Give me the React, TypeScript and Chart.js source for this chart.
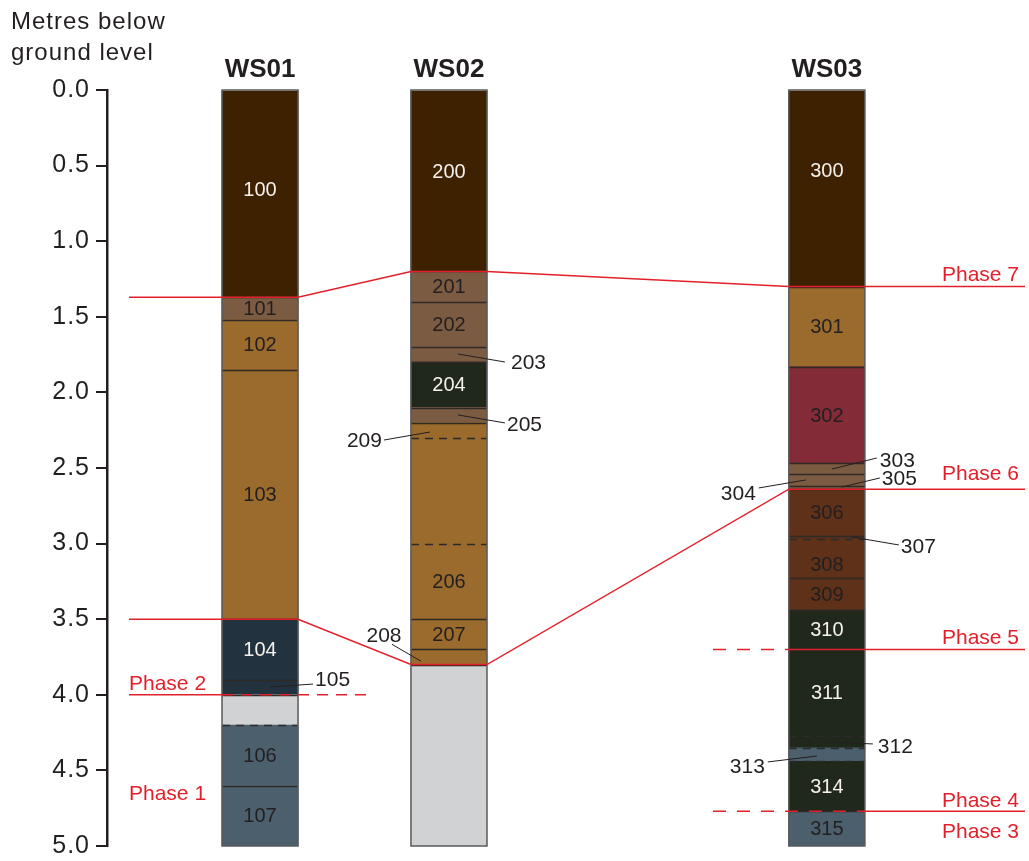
import React, { useEffect, useRef } from 'react';
import { Chart, registerables } from 'chart.js';

Chart.register(...registerables);

const FONT = '"Liberation Sans", Arial, Helvetica, sans-serif';
const INK = '#231f20';
const RED = '#e3202a';

// Boreholes and their stations along the section line
const boreholeNames = ['WS01', 'WS02', 'WS03'];
const boreholeStations = [0, 1, 3];

// Depth axis tick values (metres below ground level)
const depthTickValues = [0, 0.5, 1, 1.5, 2, 2.5, 3, 3.5, 4, 4.5, 5];

// WS01 log
const ws01Contexts = ['100', '101', '102', '103', '104', '105', '', '106', '107'];
const ws01Tops = [0, 1.37, 1.52, 1.85, 3.5, 3.9, 4.0, 4.2, 4.6];
const ws01Bases = [1.37, 1.52, 1.85, 3.5, 3.9, 4.0, 4.2, 4.6, 5.0];
const ws01Deposits = ['topsoil', 'silt', 'sand', 'sand', 'darkClay', 'darkClay', 'noCore', 'greyClay', 'greyClay'];
const ws01DashedBoundaries = [4.2];

// WS02 log
const ws02Contexts = ['200', '201', '202', '203', '204', '205', '209', '', '206', '207', '208', ''];
const ws02Tops = [0, 1.2, 1.4, 1.7, 1.8, 2.1, 2.2, 2.3, 3.0, 3.5, 3.7, 3.8];
const ws02Bases = [1.2, 1.4, 1.7, 1.8, 2.1, 2.2, 2.3, 3.0, 3.5, 3.7, 3.8, 5.0];
const ws02Deposits = ['topsoil', 'silt', 'silt', 'silt', 'peat', 'silt', 'sand', 'sand', 'sand', 'sand', 'sand', 'noCore'];
const ws02DashedBoundaries = [2.3, 3.0];

// WS03 log
const ws03Contexts = ['300', '301', '302', '303', '304', '305', '306', '307', '308', '309', '310', '311', '312', '313', '314', '315'];
const ws03Tops = [0, 1.3, 1.83, 2.47, 2.54, 2.62, 2.64, 2.95, 2.97, 3.23, 3.44, 3.7, 4.27, 4.35, 4.44, 4.77];
const ws03Bases = [1.3, 1.83, 2.47, 2.54, 2.62, 2.64, 2.95, 2.97, 3.23, 3.44, 3.7, 4.27, 4.35, 4.44, 4.77, 5.0];
const ws03Deposits = ['topsoil', 'sand', 'redClay', 'silt', 'silt', 'silt', 'organic', 'organic', 'organic', 'organic', 'peat', 'peat', 'peat', 'greyClay', 'peat', 'greyClay'];
const ws03DashedBoundaries = [2.97, 4.27, 4.35, 4.44];

// Context labels that sit off-centre within their layer (depth of label centre)
const labelDepthOverrides: Record<string, number> = { '100': 0.66, '200': 0.54, '300': 0.53, '308': 3.14 };

// Phase horizons
const phase7Depths = [1.37, 1.2, 1.3]; // WS01, WS02, WS03
const phase6Depths = [3.5, 3.8, 2.64]; // WS01, WS02, WS03
const phase5Depth = 3.7; // WS03
const phase4Depth = 4.77; // WS03
const phase2Depth = 4.0; // WS01

const phaseNames = ['Phase 1', 'Phase 2', 'Phase 3', 'Phase 4', 'Phase 5', 'Phase 6', 'Phase 7'];
const phaseLabelDepths = [4.648, 3.922, 4.899, 4.696, 3.618, 2.533, 1.217];
const phaseLabelSides = ['left', 'left', 'right', 'right', 'right', 'right', 'right'];

// Leader-line callouts for thin layers: borehole, anchor / elbow / text (px offset from column centre, depth)
const callouts = [
  { id: '105', hole: 0, ax: 10, ad: 3.948, ex: 53, ed: 3.929, tx: 55, td: 3.9, align: 'left' },
  { id: '203', hole: 1, ax: 9, ad: 1.746, ex: 56, ed: 1.799, tx: 62, td: 1.797, align: 'left' },
  { id: '205', hole: 1, ax: 9, ad: 2.149, ex: 56, ed: 2.202, tx: 58, td: 2.211, align: 'left' },
  { id: '209', hole: 1, ax: -19, ad: 2.262, ex: -65, ed: 2.315, tx: -67, td: 2.315, align: 'right' },
  { id: '208', hole: 1, ax: -28, ad: 3.778, ex: -57, ed: 3.666, tx: -65, td: 3.605, align: 'center' },
  { id: '303', hole: 2, ax: 5, ad: 2.507, ex: 50, ed: 2.434, tx: 53, td: 2.447, align: 'left' },
  { id: '305', hole: 2, ax: 15, ad: 2.626, ex: 53, ed: 2.566, tx: 55, td: 2.568, align: 'left' },
  { id: '304', hole: 2, ax: -21, ad: 2.579, ex: -68, ed: 2.632, tx: -71, td: 2.667, align: 'right' },
  { id: '307', hole: 2, ax: 25, ad: 2.956, ex: 72, ed: 3.009, tx: 74, td: 3.02, align: 'left' },
  { id: '312', hole: 2, ax: 1, ad: 4.312, ex: 46, ed: 4.325, tx: 51, td: 4.337, align: 'left' },
  { id: '313', hole: 2, ax: -10, ad: 4.405, ex: -59, ed: 4.444, tx: -62, td: 4.475, align: 'right' },
];

const depositFill: Record<string, string> = {
  topsoil: '#3e2100',
  silt: '#7c5b43',
  sand: '#9a6b2c',
  darkClay: '#22323e',
  noCore: '#d1d2d4',
  greyClay: '#4b5f6d',
  peat: '#20271b',
  redClay: '#832b37',
  organic: '#5e3118',
};
const lightText = new Set(['topsoil', 'darkClay', 'peat']);

const logs = [
  { contexts: ws01Contexts, tops: ws01Tops, bases: ws01Bases, deposits: ws01Deposits, dashed: ws01DashedBoundaries },
  { contexts: ws02Contexts, tops: ws02Tops, bases: ws02Bases, deposits: ws02Deposits, dashed: ws02DashedBoundaries },
  { contexts: ws03Contexts, tops: ws03Tops, bases: ws03Bases, deposits: ws03Deposits, dashed: ws03DashedBoundaries },
];

function columnGeometry(chart: any, hole: number) {
  const el: any = chart.getDatasetMeta(hole).data[0];
  const half = el.width / 2;
  return { cx: el.x, left: el.x - half, right: el.x + half };
}

function polyline(ctx: CanvasRenderingContext2D, pts: number[][], dash: number[]) {
  ctx.save();
  ctx.setLineDash(dash);
  ctx.beginPath();
  pts.forEach(([px, py], i) => (i === 0 ? ctx.moveTo(px, py) : ctx.lineTo(px, py)));
  ctx.stroke();
  ctx.restore();
}

const sectionPlugin = {
  id: 'section',
  beforeDraw(chart: any) {
    chart.ctx.letterSpacing = '1px';
  },
  beforeDatasetsDraw(chart: any) {
    chart.ctx.letterSpacing = '0px';
  },
  afterDatasetsDraw(chart: any) {
    const { ctx } = chart;
    const y = chart.scales.y;
    const calloutIds = new Set(callouts.map((c) => c.id));
    ctx.save();
    logs.forEach((log, b) => {
      const col = columnGeometry(chart, b);
      // layer boundaries
      for (let i = 1; i < log.tops.length; i++) {
        const d = log.tops[i];
        const yy = Math.round(y.getPixelForValue(d)) + 0.5;
        const dashed = log.dashed.includes(d);
        ctx.save();
        ctx.strokeStyle = dashed ? '#2b2b2b' : '#2e2a26';
        ctx.lineWidth = 1.3;
        ctx.setLineDash(dashed ? [8, 6] : []);
        ctx.beginPath();
        ctx.moveTo(col.left, yy);
        ctx.lineTo(col.right, yy);
        ctx.stroke();
        ctx.restore();
      }
      // column outline
      const top = y.getPixelForValue(log.tops[0]);
      const bottom = y.getPixelForValue(log.bases[log.bases.length - 1]);
      ctx.strokeStyle = '#5a5a5c';
      ctx.lineWidth = 1.5;
      ctx.strokeRect(col.left, top, col.right - col.left, bottom - top);
      // context numbers
      ctx.font = `20px ${FONT}`;
      ctx.textAlign = 'center';
      ctx.textBaseline = 'middle';
      log.contexts.forEach((id, i) => {
        if (!id || calloutIds.has(id)) return;
        const d = labelDepthOverrides[id] ?? (log.tops[i] + log.bases[i]) / 2;
        ctx.fillStyle = lightText.has(log.deposits[i]) ? '#f4f1ec' : INK;
        ctx.fillText(id, col.cx, y.getPixelForValue(d) + 1);
      });
      // borehole name
      ctx.font = `bold 26px ${FONT}`;
      ctx.fillStyle = INK;
      ctx.textBaseline = 'alphabetic';
      ctx.fillText(boreholeNames[b], col.cx, top - 13);
    });
    ctx.restore();
  },
  afterDraw(chart: any) {
    const { ctx } = chart;
    const y = chart.scales.y;
    const c = [0, 1, 2].map((b) => columnGeometry(chart, b));
    const leftEnd = 129;
    const rightEnd = 1025;
    ctx.save();

    // phase horizons
    ctx.strokeStyle = RED;
    ctx.lineWidth = 1.5;
    [phase7Depths, phase6Depths].forEach((ds) => {
      const [y0, y1, y2] = ds.map((d) => y.getPixelForValue(d));
      polyline(ctx, [[leftEnd, y0], [c[0].right, y0], [c[1].left, y1], [c[1].right, y1], [c[2].left, y2], [rightEnd, y2]], []);
    });
    const y2p = y.getPixelForValue(phase2Depth);
    polyline(ctx, [[leftEnd, y2p], [c[0].left, y2p]], []);
    polyline(ctx, [[c[0].left, y2p], [373, y2p]], [11, 8]);
    const y5p = y.getPixelForValue(phase5Depth);
    polyline(ctx, [[713, y5p], [c[2].left, y5p]], [13, 11]);
    polyline(ctx, [[c[2].left, y5p], [rightEnd, y5p]], []);
    const y4p = y.getPixelForValue(phase4Depth);
    polyline(ctx, [[713, y4p], [c[2].right, y4p]], [13, 11]);
    polyline(ctx, [[c[2].right, y4p], [rightEnd, y4p]], []);

    // phase labels
    ctx.font = `21px ${FONT}`;
    ctx.fillStyle = RED;
    ctx.textBaseline = 'middle';
    phaseNames.forEach((name, i) => {
      const left = phaseLabelSides[i] === 'left';
      ctx.textAlign = left ? 'left' : 'right';
      ctx.fillText(name, left ? leftEnd : 1019, y.getPixelForValue(phaseLabelDepths[i]) + 1);
    });

    // callouts
    ctx.strokeStyle = INK;
    ctx.fillStyle = INK;
    ctx.lineWidth = 1;
    callouts.forEach((co) => {
      const cx = c[co.hole].cx;
      ctx.beginPath();
      ctx.moveTo(cx + co.ax, y.getPixelForValue(co.ad));
      ctx.lineTo(cx + co.ex, y.getPixelForValue(co.ed));
      ctx.stroke();
      ctx.textAlign = co.align as CanvasTextAlign;
      ctx.fillText(co.id, cx + co.tx, y.getPixelForValue(co.td) + 1);
    });

    // depth axis title
    ctx.font = `24px ${FONT}`;
    ctx.textAlign = 'left';
    ctx.textBaseline = 'alphabetic';
    (ctx as any).letterSpacing = '1px';
    ctx.fillText('Metres below', 11, 29);
    ctx.fillText('ground level', 11, 60);
    (ctx as any).letterSpacing = '0px';
    ctx.restore();
  },
};

export default function App() {
  const canvasRef = useRef<HTMLCanvasElement>(null);

  useEffect(() => {
    if (!canvasRef.current) return;
    const datasets = logs.map((log, b) => ({
      label: boreholeNames[b],
      data: log.tops.map((t, i) => ({ x: boreholeStations[b], y: [t, log.bases[i]] })),
      backgroundColor: log.deposits.map((d) => depositFill[d]),
      borderWidth: 0,
      grouped: false,
      barPercentage: 1,
      categoryPercentage: 1,
      maxBarThickness: 76,
    }));

    const chart = new Chart(canvasRef.current, {
      type: 'bar',
      data: { datasets: datasets as any },
      options: {
        animation: false,
        responsive: false,
        events: [],
        layout: { padding: { left: 0, right: 0, top: 90, bottom: 15 } },
        plugins: { legend: { display: false }, tooltip: { enabled: false } },
        scales: {
          x: {
            type: 'linear',
            display: false,
            offset: false,
            min: -0.81,
            max: 4.07,
            afterBuildTicks: (s: any) => {
              s.ticks = boreholeStations.map((v) => ({ value: v }));
            },
          },
          y: {
            type: 'linear',
            reverse: true,
            min: 0,
            max: 5,
            afterFit: (s: any) => {
              s.width = 107;
            },
            afterBuildTicks: (s: any) => {
              s.ticks = depthTickValues.map((v) => ({ value: v }));
            },
            ticks: {
              callback: (v: any) => Number(v).toFixed(1),
              font: { family: FONT, size: 25, lineHeight: 0.6 },
              color: INK,
              padding: 6,
            },
            grid: { drawOnChartArea: false, drawTicks: true, tickLength: 11, color: INK, lineWidth: 2 },
            border: { display: true, color: INK, width: 2.5 },
          },
        },
      } as any,
      plugins: [sectionPlugin],
    });
    return () => chart.destroy();
  }, []);

  return (
    <div style={{ position: 'absolute', left: 0, top: 0, width: 1029, height: 861, background: '#fff' }}>
      <canvas ref={canvasRef} width={1029} height={861} style={{ display: 'block' }} />
    </div>
  );
}
